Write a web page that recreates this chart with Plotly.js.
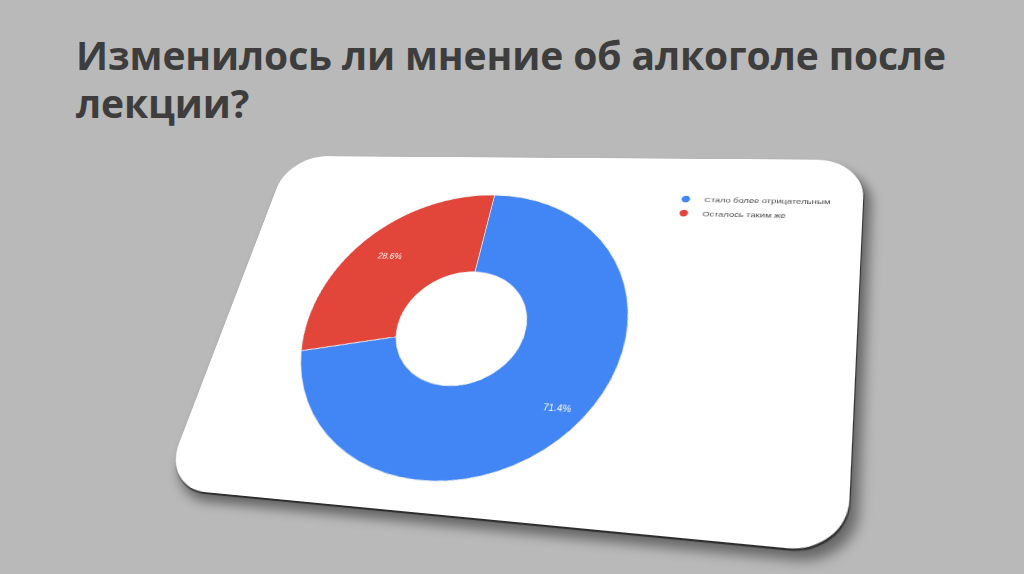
<!DOCTYPE html>
<html>
<head>
<meta charset="utf-8">
<script src="https://cdn.plot.ly/plotly-3.0.1.min.js"></script>
<style>
  html, body { margin: 0; padding: 0; }
  body {
    width: 1024px; height: 574px; overflow: hidden;
    background: #b9b9b9; position: relative;
    font-family: "Open Sans", sans-serif;
  }
  #title {
    position: absolute; left: 76px; top: 31px;
    font-size: 39px; font-weight: 700; line-height: 48px;
    color: #3d3d3d; letter-spacing: -0.1px;
  }
  #card {
    position: absolute; left: 0; top: 0;
    width: 672px; height: 440px;
    background: #fff; border-radius: 50px;
    box-shadow: 8px 10px 12px rgba(0, 0, 0, 0.45), 1px 2px 1px rgba(0, 0, 0, 0.6);
    transform-origin: 0 0;
    overflow: hidden;
  }
</style>
</head>
<body>
<div id="title">Изменилось ли мнение об алкоголе после<br>лекции?</div>
<div id="card"><div id="chart"></div></div>
<script>
// chart data
const labels = ["Стало более отрицательным", "Осталось таким же"];
const values = [71.4, 28.6];
const colors = ["#4285f4", "#e2453a"];

// card corners on the page (tl, tr, br, bl), the slide shows it in perspective
const cardW = 672, cardH = 440;
const cardQuad = [[289, 156], [865, 160], [847, 554], [162, 488]];

function solve(A, b) {
  const n = b.length;
  for (let i = 0; i < n; i++) {
    let p = i;
    for (let r = i + 1; r < n; r++) if (Math.abs(A[r][i]) > Math.abs(A[p][i])) p = r;
    [A[i], A[p]] = [A[p], A[i]];
    [b[i], b[p]] = [b[p], b[i]];
    for (let r = i + 1; r < n; r++) {
      const f = A[r][i] / A[i][i];
      for (let c = i; c < n; c++) A[r][c] -= f * A[i][c];
      b[r] -= f * b[i];
    }
  }
  const x = new Array(n).fill(0);
  for (let i = n - 1; i >= 0; i--) {
    let s = b[i];
    for (let c = i + 1; c < n; c++) s -= A[i][c] * x[c];
    x[i] = s / A[i][i];
  }
  return x;
}

function quadTransform(w, h, q) {
  const src = [[0, 0], [w, 0], [w, h], [0, h]];
  const A = [], b = [];
  for (let i = 0; i < 4; i++) {
    const [x, y] = src[i], [X, Y] = q[i];
    A.push([x, y, 1, 0, 0, 0, -x * X, -y * X]); b.push(X);
    A.push([0, 0, 0, x, y, 1, -x * Y, -y * Y]); b.push(Y);
  }
  const k = solve(A, b);
  const m = [k[0], k[3], 0, k[6], k[1], k[4], 0, k[7], 0, 0, 1, 0, k[2], k[5], 0, 1];
  return "matrix3d(" + m.join(",") + ")";
}

document.getElementById("card").style.transform = quadTransform(cardW, cardH, cardQuad);

const hole = 0.4;
const pieDomain = { x: [0.145, 0.669], y: [0.075, 0.875] };

const pie = {
  type: "pie",
  labels: labels,
  values: values,
  hole: hole,
  sort: false,
  direction: "clockwise",
  rotation: 0,
  marker: { colors: colors, line: { color: "#f2f2f2", width: 1 } },
  textinfo: "none",
  domain: pieDomain,
  showlegend: false,
  hoverinfo: "none"
};

// legend entries with round markers, like the original chart
const legendTraces = labels.map((name, i) => ({
  type: "scatter",
  mode: "markers",
  x: [null], y: [null],
  name: name,
  marker: { symbol: "circle", size: 9, color: colors[i] },
  hoverinfo: "none"
}));

// percent labels on the ring, at each slice's mid angle (Google style: near the outer edge)
const total = values.reduce((a, b) => a + b, 0);
const dw = (pieDomain.x[1] - pieDomain.x[0]) * cardW;
const dh = (pieDomain.y[1] - pieDomain.y[0]) * cardH;
const rPx = Math.min(dw, dh) / 2;
const cx = (pieDomain.x[0] + pieDomain.x[1]) / 2;
const cy = (pieDomain.y[0] + pieDomain.y[1]) / 2;
const rLabel = rPx * 0.87;
let cum = 0;
const annotations = values.map((v) => {
  const a = 2 * Math.PI * (cum + v / 2) / total;
  cum += v;
  return {
    xref: "paper", yref: "paper",
    x: cx + rLabel * Math.sin(a) / cardW,
    y: cy + rLabel * Math.cos(a) / cardH,
    text: (100 * v / total).toFixed(1) + "%",
    showarrow: false,
    font: { family: "Liberation Sans, Arial, sans-serif", size: 10, color: "#ffffff" }
  };
});

const layout = {
  width: cardW,
  height: cardH,
  margin: { l: 0, r: 0, t: 0, b: 0 },
  paper_bgcolor: "rgba(0,0,0,0)",
  plot_bgcolor: "rgba(0,0,0,0)",
  xaxis: { visible: false },
  yaxis: { visible: false },
  showlegend: true,
  legend: {
    x: 0.698, y: 0.905, xanchor: "left", yanchor: "top",
    font: { family: "Liberation Sans, Arial, sans-serif", size: 9.7, color: "#4a4a4a" },
    itemwidth: 30, tracegroupgap: 0
  },
  annotations: annotations
};

Plotly.newPlot("chart", [pie, ...legendTraces], layout, { displayModeBar: false, staticPlot: true });
</script>
</body>
</html>
